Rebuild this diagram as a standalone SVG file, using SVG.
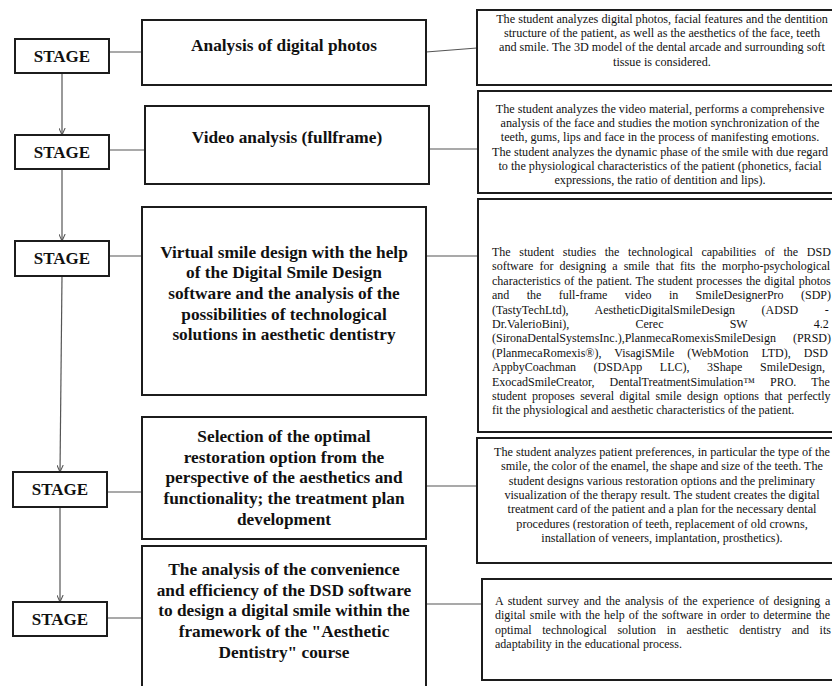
<svg xmlns="http://www.w3.org/2000/svg" width="832" height="686" viewBox="0 0 832 686">
<style>
.box{fill:#fff;stroke:#1c1c1c;stroke-width:2}
.conn{fill:none;stroke:#555;stroke-width:1.2}
text{fill:#111;font-family:"Liberation Serif","Times New Roman",serif}
.stage{font-size:17px;font-weight:bold;text-anchor:middle}
.title{font-size:17.3px;font-weight:bold;text-anchor:middle}
.desc{font-size:12.2px;text-anchor:middle}
.just{font-size:12px}
</style>
<defs>
<marker id="arr" viewBox="0 0 10 10" refX="10" refY="5" markerWidth="7" markerHeight="7" markerUnits="userSpaceOnUse" orient="auto">
<path d="M0,0.5 L10,5 L0,9.5" fill="none" stroke="#555" stroke-width="1.5"/>
</marker>
</defs>
<rect width="832" height="686" fill="#fff"/>

<g id="connectors">
<line class="conn" x1="109" y1="52" x2="142" y2="52"/>
<line class="conn" x1="426" y1="52" x2="477" y2="48"/>
<line class="conn" x1="62" y1="73" x2="62" y2="135" marker-end="url(#arr)"/>
<line class="conn" x1="109" y1="150" x2="145" y2="150"/>
<line class="conn" x1="429" y1="149" x2="478" y2="149"/>
<line class="conn" x1="62" y1="169" x2="62" y2="241" marker-end="url(#arr)"/>
<line class="conn" x1="109" y1="256" x2="142" y2="256"/>
<line class="conn" x1="426" y1="256" x2="478" y2="256"/>
<line class="conn" x1="62" y1="276" x2="60" y2="472" marker-end="url(#arr)"/>
<line class="conn" x1="107" y1="492" x2="142" y2="492"/>
<line class="conn" x1="426" y1="486" x2="477" y2="486"/>
<line class="conn" x1="60" y1="507" x2="60" y2="602" marker-end="url(#arr)"/>
<line class="conn" x1="107" y1="618" x2="142" y2="618"/>
<line class="conn" x1="426" y1="604" x2="482" y2="604"/>
</g>

<g id="stage1"><rect class="box" x="15" y="39" width="94" height="34"/><text class="stage" x="62" y="62">STAGE</text></g>
<g id="stage2"><rect class="box" x="15" y="135" width="94" height="34"/><text class="stage" x="62" y="158">STAGE</text></g>
<g id="stage3"><rect class="box" x="15" y="241" width="94" height="35"/><text class="stage" x="62" y="264">STAGE</text></g>
<g id="stage4"><rect class="box" x="13" y="472" width="94" height="35"/><text class="stage" x="60" y="495">STAGE</text></g>
<g id="stage5"><rect class="box" x="13" y="602" width="94" height="34"/><text class="stage" x="60" y="625">STAGE</text></g>

<g id="step1"><rect class="box" x="142" y="20" width="284" height="65"/>
<text class="title" x="284" y="51">Analysis of digital photos</text></g>
<g id="step2"><rect class="box" x="145" y="106" width="284" height="78"/>
<text class="title" x="287" y="143">Video analysis (fullframe)</text></g>
<g id="step3"><rect class="box" x="142" y="207" width="284" height="188"/>
<text class="title"><tspan x="284" y="257.5">Virtual smile design with the help</tspan><tspan x="284" y="278.2">of the Digital Smile Design</tspan><tspan x="284" y="298.9">software and the analysis of the</tspan><tspan x="284" y="319.6">possibilities of technological</tspan><tspan x="284" y="340.3">solutions in aesthetic dentistry</tspan></text></g>
<g id="step4"><rect class="box" x="142" y="417" width="284" height="122"/>
<text class="title"><tspan x="284" y="442">Selection of the optimal</tspan><tspan x="284" y="462.7">restoration option from the</tspan><tspan x="284" y="483.4">perspective of the aesthetics and</tspan><tspan x="284" y="504.1">functionality; the treatment plan</tspan><tspan x="284" y="524.8">development</tspan></text></g>
<g id="step5"><rect class="box" x="142" y="546" width="284" height="150"/>
<text class="title"><tspan x="284" y="575">The analysis of the convenience</tspan><tspan x="284" y="595.7">and efficiency of the DSD software</tspan><tspan x="284" y="616.4">to design a digital smile within the</tspan><tspan x="284" y="637.1">framework of the "Aesthetic</tspan><tspan x="284" y="657.8">Dentistry" course</tspan></text></g>

<g id="desc1"><rect class="box" x="477" y="10" width="380" height="75"/>
<text class="desc"><tspan x="662" y="23">The student analyzes digital photos, facial features and the dentition</tspan><tspan x="662" y="37.2">structure of the patient,  as well as the aesthetics of the face, teeth</tspan><tspan x="662" y="51.4">and smile. The 3D model of the dental arcade and surrounding soft</tspan><tspan x="662" y="65.6">tissue is considered.</tspan></text></g>

<g id="desc2"><rect class="box" x="478" y="91" width="380" height="102"/>
<text class="desc"><tspan x="660" y="113">The student analyzes the video material, performs a comprehensive</tspan><tspan x="660" y="127.2">analysis of the face and studies the motion synchronization of the</tspan><tspan x="660" y="141.4">teeth, gums, lips and face in the process of manifesting emotions.</tspan><tspan x="660" y="155.6">The student analyzes the dynamic phase of the smile with due regard</tspan><tspan x="660" y="169.8">to the physiological characteristics of the patient (phonetics, facial</tspan><tspan x="660" y="184">expressions, the ratio of dentition and lips).</tspan></text></g>

<g id="desc3"><rect class="box" x="478" y="199" width="380" height="233"/>
<text class="just" x="492" y="256" word-spacing="5.7">The student studies the technological capabilities of the DSD</text>
<text class="just" x="492" y="270.4" word-spacing="3.1">software for designing a smile that fits the morpho-psychological</text>
<text class="just" x="492" y="284.8" word-spacing="0.7">characteristics of the patient. The student processes the digital photos</text>
<text class="just" x="492" y="299.2" word-spacing="14.4">and the full-frame video in SmileDesignerPro (SDP)</text>
<text class="just" x="492" y="313.6" word-spacing="23.5">(TastyTechLtd), AestheticDigitalSmileDesign (ADSD -</text>
<text class="just" x="492" y="328" word-spacing="63.2">Dr.ValerioBini), Cerec SW 4.2</text>
<text class="just" x="492" y="342.4" word-spacing="14">(SironaDentalSystemsInc.),PlanmecaRomexisSmileDesign (PRSD)</text>
<text class="just" x="492" y="356.8" word-spacing="10.1">(PlanmecaRomexis®), VisagiSMile (WebMotion LTD), DSD</text>
<text class="just" x="492" y="371.2" word-spacing="14.6">AppbyCoachman (DSDApp LLC), 3Shape SmileDesign,</text>
<text class="just" x="492" y="385.6" word-spacing="12.1">ExocadSmileCreator, DentalTreatmentSimulation™ PRO. The</text>
<text class="just" x="492" y="400" word-spacing="2.4">student proposes several digital smile design options that perfectly</text>
<text class="just" x="492" y="414.4">fit the physiological and aesthetic characteristics of the patient.</text>
</g>

<g id="desc4"><rect class="box" x="477" y="438" width="380" height="125"/>
<text class="desc"><tspan x="662" y="456">The student analyzes patient preferences, in particular the type of the</tspan><tspan x="662" y="470.3">smile, the color of the enamel, the shape and size of the teeth. The</tspan><tspan x="662" y="484.6">student designs various restoration options and the preliminary</tspan><tspan x="662" y="498.9">visualization of the therapy result. The student creates the digital</tspan><tspan x="662" y="513.2">treatment card of the patient and a plan for the necessary dental</tspan><tspan x="662" y="527.5">procedures (restoration of teeth, replacement of old crowns,</tspan><tspan x="662" y="541.8">installation of veneers, implantation, prosthetics).</tspan></text></g>

<g id="desc5"><rect class="box" x="482" y="579" width="380" height="101"/>
<text class="just" x="495" y="605" word-spacing="1.67">A student survey and the analysis of the experience of designing a</text>
<text class="just" x="495" y="619.3" word-spacing="1.1">digital smile with the help of the software in order to determine the</text>
<text class="just" x="495" y="633.6" word-spacing="7.57">optimal technological solution in aesthetic dentistry and its</text>
<text class="just" x="495" y="647.9">adaptability in the educational process.</text>
</g>
</svg>
